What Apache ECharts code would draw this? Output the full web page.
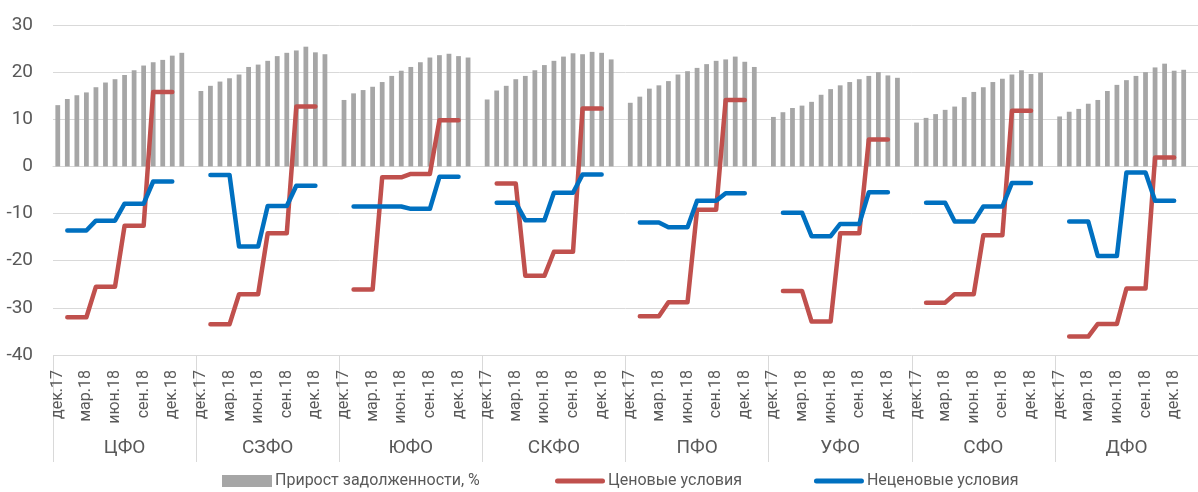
<!DOCTYPE html>
<html>
<head>
<meta charset="utf-8">
<script src="https://cdn.jsdelivr.net/npm/echarts@6/dist/echarts.min.js"></script>
<style>
  html, body { margin: 0; padding: 0; background: #fff; }
  #chart { width: 1198px; height: 492px; }
</style>
</head>
<body>
<div id="chart"></div>
<script>
// федеральные округа и месяцы внутри каждой группы
var districts = ['ЦФО', 'СЗФО', 'ЮФО', 'СКФО', 'ПФО', 'УФО', 'СФО', 'ДФО'];
var months = ['дек.17', 'янв.18', 'фев.18', 'мар.18', 'апр.18', 'май.18', 'июн.18',
  'июл.18', 'авг.18', 'сен.18', 'окт.18', 'ноя.18', 'дек.18', 'янв.19'];
var shownMonths = ['дек.17', 'мар.18', 'июн.18', 'сен.18', 'дек.18'];

// Прирост задолженности, % (помесячно, дек.17 - янв.19)
var growthCFO  = [13.0, 14.3, 15.1, 15.7, 16.8, 17.8, 18.5, 19.4, 20.4, 21.4, 22.1, 22.6, 23.5, 24.1];
var growthSZFO = [16.0, 17.1, 18.0, 18.7, 19.5, 21.1, 21.6, 22.4, 23.4, 24.1, 24.6, 25.4, 24.2, 23.8];
var growthUFO  = [14.1, 15.5, 16.2, 16.9, 17.9, 19.2, 20.3, 21.1, 22.1, 23.1, 23.6, 23.9, 23.4, 23.1];
var growthSKFO = [14.2, 16.1, 17.1, 18.5, 19.2, 20.4, 21.5, 22.4, 23.3, 24.0, 23.8, 24.3, 24.1, 22.7];
var growthPFO  = [13.5, 14.8, 16.5, 17.2, 18.1, 19.5, 20.2, 20.9, 21.7, 22.4, 22.7, 23.3, 22.2, 21.1];
var growthURFO = [10.5, 11.5, 12.4, 12.9, 13.7, 15.2, 16.4, 17.2, 17.9, 18.5, 19.2, 20.0, 19.3, 18.8];
var growthSFO  = [9.3, 10.3, 11.1, 12.0, 12.7, 14.7, 15.8, 16.8, 17.9, 18.6, 19.5, 20.4, 19.6, 19.9];
var growthDFO  = [10.6, 11.6, 12.2, 13.3, 14.1, 16.0, 17.3, 18.3, 19.2, 20.0, 21.0, 21.8, 20.3, 20.5];

// Ценовые условия (по кварталам 2018 г.)
var priceCFO  = [-32.0, -25.5, -12.6, 15.8];
var priceSZFO = [-33.5, -27.1, -14.2, 12.7];
var priceUFO  = [-26.1, -2.3, -1.6, 9.8];
var priceSKFO = [-3.6, -23.2, -18.1, 12.3];
var pricePFO  = [-31.8, -28.8, -9.2, 14.1];
var priceURFO = [-26.4, -32.9, -14.2, 5.7];
var priceSFO  = [-28.9, -27.1, -14.6, 11.8];
var priceDFO  = [-36.1, -33.4, -25.9, 1.9];

// Неценовые условия (по кварталам 2018 г.)
var nonPriceCFO  = [-13.6, -11.5, -7.9, -3.2];
var nonPriceSZFO = [-1.8, -17.0, -8.4, -4.1];
var nonPriceUFO  = [-8.5, -8.5, -9.0, -2.2];
var nonPriceSKFO = [-7.7, -11.4, -5.6, -1.7];
var nonPricePFO  = [-11.9, -12.9, -7.3, -5.7];
var nonPriceURFO = [-9.8, -14.8, -12.2, -5.5];
var nonPriceSFO  = [-7.7, -11.7, -8.5, -3.5];
var nonPriceDFO  = [-11.7, -19.0, -1.3, -7.3];

var growth = [growthCFO, growthSZFO, growthUFO, growthSKFO, growthPFO, growthURFO, growthSFO, growthDFO];
var price = [priceCFO, priceSZFO, priceUFO, priceSKFO, pricePFO, priceURFO, priceSFO, priceDFO];
var nonPrice = [nonPriceCFO, nonPriceSZFO, nonPriceUFO, nonPriceSKFO, nonPricePFO, nonPriceURFO, nonPriceSFO, nonPriceDFO];

var FONT = "Roboto, 'DejaVu Sans Condensed', sans-serif";
var TEXT = '#595959';

// каждая группа: 14 месяцев + пустой слот
var categories = [];
var barData = [];
var priceData = [];
var nonPriceData = [];
districts.forEach(function (d, g) {
  months.forEach(function (m, i) {
    categories.push(m);
    barData.push(growth[g][i]);
    // квартальное значение стоит на каждом из трёх месяцев квартала (янв..дек.18)
    if (i >= 1 && i <= 12) {
      var q = Math.floor((i - 1) / 3);
      priceData.push(price[g][q]);
      nonPriceData.push(nonPrice[g][q]);
    } else {
      priceData.push('-');
      nonPriceData.push('-');
    }
  });
  categories.push('');
  barData.push('-');
  priceData.push('-');
  nonPriceData.push('-');
});

var chart = echarts.init(document.getElementById('chart'));
chart.setOption({
  animation: false,
  textStyle: { fontFamily: FONT },
  grid: { left: 53, top: 25, width: 1164, height: 330 },
  legend: [{
    data: ['Прирост задолженности, %'],
    left: 217, top: 468,
    icon: 'rect', itemWidth: 50, itemHeight: 12,
    textStyle: { fontFamily: FONT, fontSize: 16, color: TEXT, padding: [0, 0, 0, -2] }
  }, {
    data: ['Ценовые условия', 'Неценовые условия'],
    left: 550, top: 468, itemGap: 72,
    icon: 'path://M2.5,0 L47.5,0 A2.5,2.5 0 0 1 47.5,5 L2.5,5 A2.5,2.5 0 0 1 2.5,0 Z',
    itemWidth: 50, itemHeight: 5,
    textStyle: { fontFamily: FONT, fontSize: 16, color: TEXT, padding: [0, 0, 0, -2] }
  }],
  xAxis: [{
    type: 'category',
    data: categories,
    position: 'bottom',
    axisLine: { lineStyle: { color: '#d9d9d9' } },
    axisTick: { show: false },
    axisLabel: {
      rotate: 90,
      margin: 15,
      fontSize: 16,
      color: TEXT,
      fontFamily: FONT,
      interval: function (idx, name) {
        return shownMonths.indexOf(name) >= 0 && idx % 15 !== 14;
      }
    }
  }, {
    type: 'category',
    data: districts,
    position: 'bottom',
    axisLine: { show: false },
    axisTick: { show: true, interval: 0, length: 107, lineStyle: { color: '#d9d9d9' } },
    axisLabel: { interval: 0, margin: 84, fontSize: 19, color: TEXT, fontFamily: FONT }
  }],
  yAxis: {
    type: 'value',
    min: -40, max: 30, interval: 10,
    axisLine: { show: false },
    axisTick: { show: false },
    axisLabel: { fontSize: 19, color: TEXT, margin: 20, fontFamily: FONT },
    splitLine: { lineStyle: { color: '#d9d9d9' } }
  },
  series: [{
    name: 'Прирост задолженности, %',
    type: 'bar',
    data: barData,
    barWidth: '50%',
    itemStyle: { color: '#a6a6a6' }
  }, {
    name: 'Ценовые условия',
    type: 'line',
    data: priceData,
    showSymbol: false,
    symbol: 'none',
    color: '#c0504d',
    lineStyle: { width: 4.5, color: '#c0504d', cap: 'round', join: 'round' }
  }, {
    name: 'Неценовые условия',
    type: 'line',
    data: nonPriceData,
    showSymbol: false,
    symbol: 'none',
    color: '#0070c0',
    lineStyle: { width: 4.5, color: '#0070c0', cap: 'round', join: 'round' }
  }]
});
</script>
</body>
</html>
